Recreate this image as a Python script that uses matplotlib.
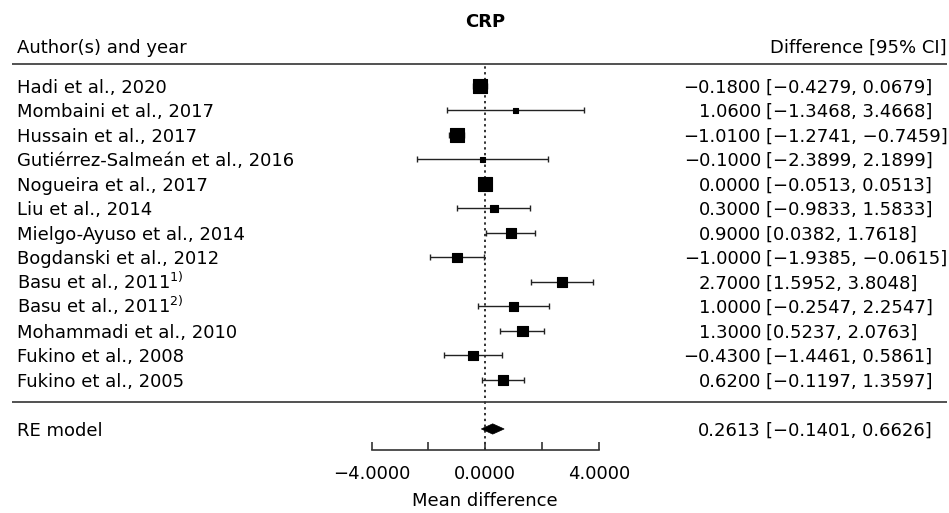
import numpy as np
import matplotlib
matplotlib.use("Agg")
import matplotlib.pyplot as plt
from matplotlib.markers import MarkerStyle

plt.rcParams['font.family'] = ['DejaVu Sans']
plt.rcParams['mathtext.fontset'] = 'dejavusans'

studies = ["Hadi et al., 2020", "Mombaini et al., 2017", "Hussain et al., 2017",
           "Gutiérrez-Salmeán et al., 2016", "Nogueira et al., 2017", "Liu et al., 2014",
           "Mielgo-Ayuso et al., 2014", "Bogdanski et al., 2012",
           "Basu et al., 2011$^{1)}$", "Basu et al., 2011$^{2)}$",
           "Mohammadi et al., 2010", "Fukino et al., 2008", "Fukino et al., 2005"]
est = [-0.18, 1.06, -1.01, -0.10, 0.00, 0.30, 0.90, -1.00, 2.70, 1.00, 1.30, -0.43, 0.62]
lower = [-0.4279, -1.3468, -1.2741, -2.3899, -0.0513, -0.9833, 0.0382, -1.9385,
         1.5952, -0.2547, 0.5237, -1.4461, -0.1197]
upper = [0.0679, 3.4668, -0.7459, 2.1899, 0.0513, 1.5833, 1.7618, -0.0615,
         3.8048, 2.2547, 2.0763, 0.5861, 1.3597]
# approximate weights (%)
weights = [11.1, 2.9, 11.4, 3.0, 11.2, 5.6, 7.5, 7.5, 7.1, 6.7, 8.2, 6.9, 8.0]

re_est, re_lower, re_upper = 0.2613, -0.1401, 0.6626
ticks = [-4, 0, 4]
minor_ticks = [-2, 2]


def fmt(v):
    return f"{v:.4f}".replace("-", "\u2212")


fig = plt.figure(figsize=(9.49, 5.13), dpi=100)
ax = fig.add_axes([0, 0, 1, 1])
ax.set_xlim(-17.08, 16.32)
ax.set_ylim(-4.43, 16.51)

k = len(studies)
rows = np.arange(k, 0, -1)
est = np.array(est)
lower = np.array(lower)
upper = np.array(upper)
w = np.array(weights)

# CIs
ax.errorbar(est, rows, xerr=[est - lower, upper - est], fmt='none', ecolor='#222222',
            elinewidth=1.0, capsize=2.2, capthick=1.0, zorder=2)

# squares sized by weight
side_px = 5 + (w - w.min()) / (w.max() - w.min()) * 9.0
ax.scatter(est, rows, s=(side_px * 0.72) ** 2, marker=MarkerStyle('s', joinstyle='round'),
           color='black', edgecolor='black', linewidths=0.8, zorder=3)

# summary diamond
ax.fill([re_lower, re_est, re_upper, re_est], [-1, -0.79, -1, -1.21], color='black', lw=0.5, zorder=3)

# reference line
ax.vlines(0, -1.86, 13.9, colors='#222222', linestyles=(0, (1.3, 1.9)), lw=1.3, zorder=1)

# horizontal rules
ax.hlines([13.9, 0.1], -16.66, 16.25, colors='#333333', lw=1.2)

fs = 13
off = 0.27  # half cap height in row units, texts sit on baseline
for r, lab, e, lo, hi in zip(rows, studies, est, lower, upper):
    ax.text(-16.48, r - off, lab, ha='left', va='baseline', fontsize=fs)
    ax.text(9.70, r - off, fmt(e), ha='right', va='baseline', fontsize=fs)
    ax.text(9.88, r - off, f"[{fmt(lo)}, {fmt(hi)}]", ha='left', va='baseline', fontsize=fs)

ax.text(-16.48, -1 - off, "RE model", ha='left', va='baseline', fontsize=fs)
ax.text(9.70, -1 - off, fmt(re_est), ha='right', va='baseline', fontsize=fs)
ax.text(9.88, -1 - off, f"[{fmt(re_lower)}, {fmt(re_upper)}]", ha='left', va='baseline', fontsize=fs)

# headers
ax.text(0, 15.69 - off, "CRP", ha='center', va='baseline', fontsize=13, fontweight='bold')
ax.text(-16.48, 14.63 - off, "Author(s) and year", ha='left', va='baseline', fontsize=fs)
ax.text(16.22, 14.63 - off, "Difference [95% CI]", ha='right', va='baseline', fontsize=fs)

# x axis
for s in ['top', 'left', 'right']:
    ax.spines[s].set_visible(False)
ax.spines['bottom'].set_position(('data', -1.86))
ax.spines['bottom'].set_bounds(-4, 4)
ax.spines['bottom'].set_color('#333333')
ax.spines['bottom'].set_linewidth(1.2)
ax.set_yticks([])
ax.set_xticks(ticks)
ax.set_xticklabels([fmt(t) for t in ticks])
ax.set_xticks(minor_ticks, minor=True)
ax.tick_params(axis='x', which='both', direction='in', length=6, width=1.2,
               color='#333333', labelsize=fs, pad=11)
ax.text(0, -3.86 - off, "Mean difference", ha='center', va='baseline', fontsize=fs)

fig.savefig("out.png", dpi=100)
